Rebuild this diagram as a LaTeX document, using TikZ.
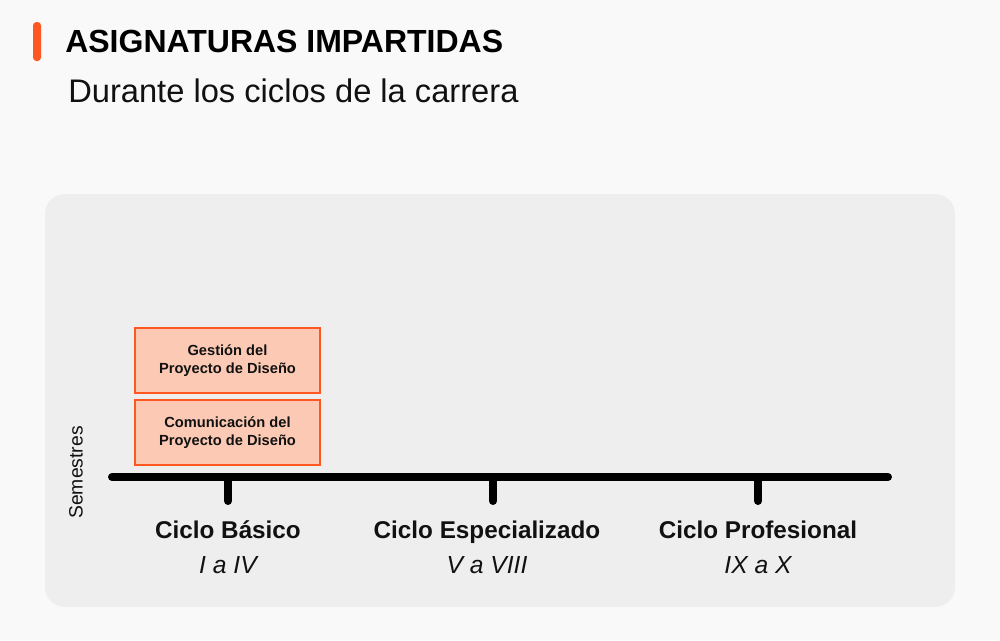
\documentclass[tikz,border=0pt]{standalone}
\usepackage{fontspec}
\setmainfont{Liberation Sans}
\definecolor{bgc}{HTML}{F9F9F9}
\definecolor{panelc}{HTML}{EEEEEE}
\definecolor{accent}{HTML}{FF5722}
\definecolor{boxfill}{HTML}{FCCAB4}
\definecolor{ink}{HTML}{111111}
\begin{document}
\begin{tikzpicture}[x=0.75pt,y=-0.75pt,
  subject/.style={draw=accent, line width=1.5pt, fill=boxfill, minimum width=138.75pt, minimum height=48.75pt, inner sep=0pt, align=center, text=ink, font=\bfseries\fontsize{11pt}{13.3pt}\selectfont},
  axisline/.style={line width=6pt, line cap=round, draw=black},
  cyclename/.style={text=ink, font=\bfseries\fontsize{18.2pt}{21pt}\selectfont, anchor=base, inner sep=0pt},
  cyclerange/.style={text=ink, font=\itshape\fontsize{18.5pt}{21pt}\selectfont, anchor=base, inner sep=0pt}]
\useasboundingbox[fill=bgc] (0,0) rectangle (1000,640);
\fill[panelc, rounded corners=15pt] (45,194) rectangle (955,607);
\fill[accent, rounded corners=2.6pt] (33,22) rectangle (41,61);
\node[anchor=base west, inner sep=0pt, text=black, font=\bfseries\fontsize{24pt}{28pt}\selectfont] (title) at (65,52) {ASIGNATURAS IMPARTIDAS};
\node[anchor=base west, inner sep=0pt, text=ink, font=\fontsize{24.5pt}{28pt}\selectfont] (subtitle) at (68,102) {Durante los ciclos de la carrera};
\node[subject] (gestion) at (227.5,360.5) {Gestión del\\Proyecto de Diseño};
\node[subject] (comunic) at (227.5,432.5) {Comunicación del\\Proyecto de Diseño};
\coordinate (axL) at (112,477);
\coordinate (axR) at (888,477);
\draw[axisline] (axL) -- (axR);
\foreach \n/\x in {t1/228,t2/493,t3/758}{
  \coordinate (\n) at (\x,477);
  \coordinate (\n b) at (\x,501);
  \draw[axisline] (\n) -- (\n b);
}
\node[rotate=90, text=ink, font=\fontsize{14.5pt}{16pt}\selectfont, inner sep=0pt] (sem) at (76,472.5) {Semestres};
\node[cyclename] (c1) at (228,538) {Ciclo Básico};
\node[cyclerange] (r1) at (228,573) {I a IV};
\node[cyclename] (c2) at (487,538) {Ciclo Especializado};
\node[cyclerange] (r2) at (487,573) {V a VIII};
\node[cyclename] (c3) at (758,538) {Ciclo Profesional};
\node[cyclerange] (r3) at (758,573) {IX a X};
\end{tikzpicture}
\end{document}
